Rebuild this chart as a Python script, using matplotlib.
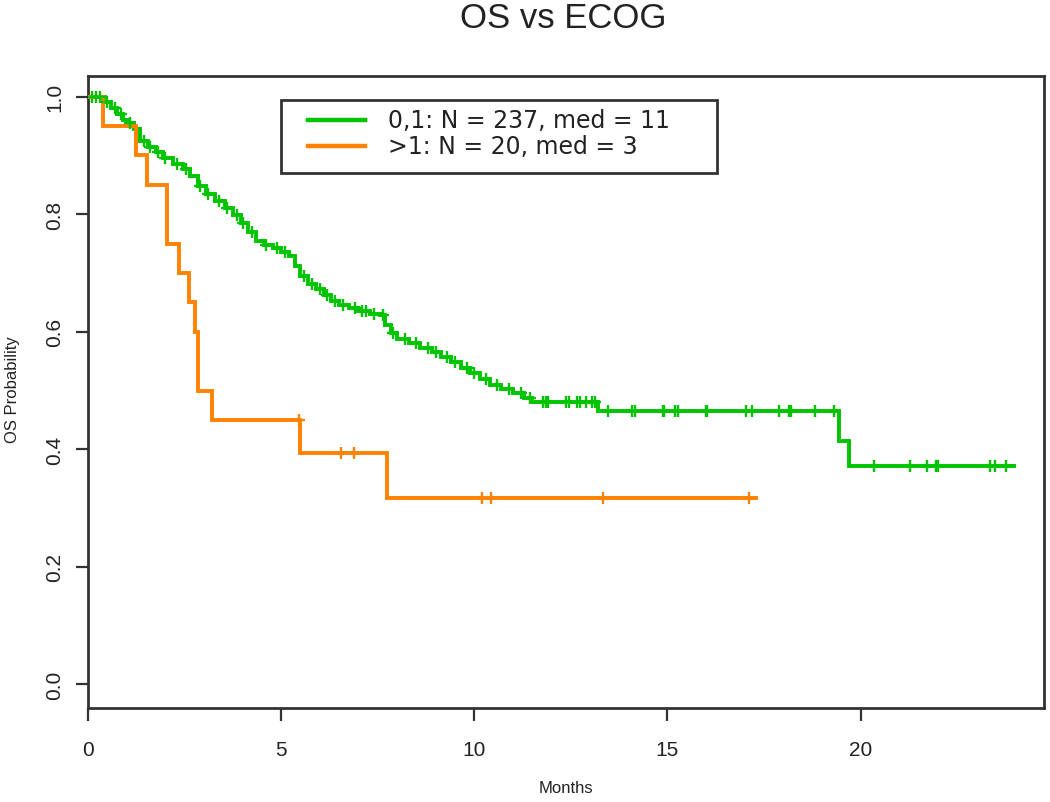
import numpy as np
import matplotlib
matplotlib.use("Agg")
import matplotlib.pyplot as plt
from matplotlib.lines import Line2D
from matplotlib.patches import Rectangle

plt.rcParams['font.family'] = ['Liberation Sans', 'DejaVu Sans']

title = "OS vs ECOG"
xlabel = "Months"
ylabel = "OS Probability"
legend_labels = ["0,1: N = 237, med = 11", ">1: N = 20, med = 3"]
xticks = [0, 5, 10, 15, 20]
yticks = [0.0, 0.2, 0.4, 0.6, 0.8, 1.0]

# ECOG 0,1 (green): step times and survival after each step
g_times = [0.0, 0.45, 0.6, 0.75, 0.9, 1.05, 1.2, 1.35, 1.55, 1.75, 1.95, 2.2, 2.45,
           2.65, 2.85, 3.05, 3.3, 3.55, 3.75, 3.95, 4.15, 4.35, 4.55, 4.8, 5.0,
           5.2, 5.35, 5.5, 5.7, 5.9, 6.1, 6.3, 6.5, 6.75, 7.0, 7.3, 7.55, 7.7,
           7.85, 8.0, 8.3, 8.6, 8.9, 9.15, 9.4, 9.65, 9.9, 10.15, 10.4, 10.7,
           11.0, 11.3, 11.5, 13.2, 19.45, 19.7]
g_surv = [1.0, 0.99, 0.98, 0.97, 0.96, 0.955, 0.945, 0.925, 0.915, 0.905, 0.895,
          0.885, 0.877, 0.865, 0.848, 0.835, 0.822, 0.81, 0.798, 0.785, 0.77,
          0.755, 0.748, 0.742, 0.735, 0.728, 0.712, 0.695, 0.682, 0.672, 0.662,
          0.652, 0.645, 0.64, 0.635, 0.63, 0.628, 0.612, 0.598, 0.588, 0.58,
          0.573, 0.566, 0.557, 0.548, 0.538, 0.53, 0.52, 0.51, 0.502, 0.495,
          0.487, 0.48, 0.465, 0.415, 0.371]
g_end = 23.98
g_censor = [0.1, 0.2, 0.3, 0.5, 0.7, 0.85, 1.1, 1.45, 1.6, 1.8, 2.0, 2.3, 2.55,
            2.9, 3.1, 3.4, 3.6, 3.85, 4.0, 4.25, 4.6, 4.9, 5.1, 5.6, 5.8, 6.0,
            6.2, 6.4, 6.6, 6.9, 7.1, 7.2, 7.4, 7.65, 7.9, 8.2, 8.5, 8.8, 9.0,
            9.3, 9.5, 9.8, 10.0, 10.3, 10.6, 10.9, 11.2, 11.45, 11.78, 11.85,
            11.9, 12.38, 12.45, 12.65, 12.75, 12.9, 13.05, 13.12, 13.46, 14.09,
            14.16, 14.88, 14.92, 15.19, 15.28, 16.0, 16.03, 17.03, 17.2, 17.9,
            18.15, 18.2, 18.81, 19.31, 20.34, 21.27, 21.73, 21.96, 22.0, 23.36,
            23.47, 23.77]

# ECOG >1 (orange)
o_times = [0.0, 0.38, 1.24, 1.53, 2.04, 2.36, 2.62, 2.77, 2.86, 3.2, 5.5, 7.73]
o_surv = [1.0, 0.95, 0.90, 0.85, 0.75, 0.70, 0.65, 0.60, 0.50, 0.45, 0.394, 0.317]
o_end = 17.3
o_censor = [5.47, 6.56, 6.89, 10.2, 10.43, 13.33, 17.1]

green = '#00c400'
orange = '#ff8200'
ink = '#222222'

W, H = 1050, 803
fig = plt.figure(figsize=(10.5, 8.03), dpi=100)
ax = fig.add_axes([88/W, 1-709/H, (1044-88)/W, (709-77)/H])


def px(x, y):
    return x / W, 1 - y / H


def draw(times, surv, end, censor, color):
    t = np.array(times + [end])
    s = np.array(surv + [surv[-1]])
    ax.step(t, s, where='post', color=color, lw=2.8, solid_joinstyle='miter', zorder=3)
    idx = np.searchsorted(np.array(times), np.array(censor), side='right') - 1
    cy = np.array(surv)[idx]
    ax.plot(censor, cy, linestyle='none', marker='+', ms=8, mew=1.7, color=color, zorder=4)


draw(g_times, g_surv, g_end, g_censor, green)
draw(o_times, o_surv, o_end, o_censor, orange)

ax.set_xlim(0, 24.75)
ax.set_ylim(-0.04, 1.035)
ax.set_xticks(xticks)
ax.set_yticks(yticks)
ax.set_xticklabels([str(v) for v in xticks], fontsize=15)
ax.set_yticklabels([f"{v:.1f}" for v in yticks], fontsize=15, rotation=90, va='center')
ax.tick_params(axis='both', direction='out', length=9, width=1.6, color='#333333',
               labelcolor=ink)
ax.tick_params(axis='x', pad=14)
ax.tick_params(axis='y', pad=8)
for sp in ax.spines.values():
    sp.set_linewidth(2.0)
    sp.set_color('#333333')

fig.text(*px(563, 18), title, ha='center', va='center', fontsize=25, color=ink)
fig.text(*px(566, 789), xlabel, ha='center', va='center', fontsize=12, color=ink)
fig.text(*px(13, 390), ylabel, ha='center', va='center', rotation=90, fontsize=12,
         color=ink)

# legend drawn by hand to match the reference box
x0, y0 = px(281, 174)
x1, y1 = px(717, 101)
fig.patches.append(Rectangle((x0, y0), x1 - x0, y1 - y0, transform=fig.transFigure,
                             facecolor='white', edgecolor='#333333', lw=2.0, zorder=5))
for label, color, yy in zip(legend_labels, [green, orange], [121, 147]):
    fig.add_artist(Line2D([308/W, 365/W], [1 - yy/H, 1 - yy/H], color=color, lw=3.2,
                          transform=fig.transFigure, zorder=6))
    fig.text(*px(388, yy), label, ha='left', va='center', fontsize=17,
             family=['DejaVu Sans'], color=ink, zorder=6)

fig.savefig('out.png', dpi=100)
